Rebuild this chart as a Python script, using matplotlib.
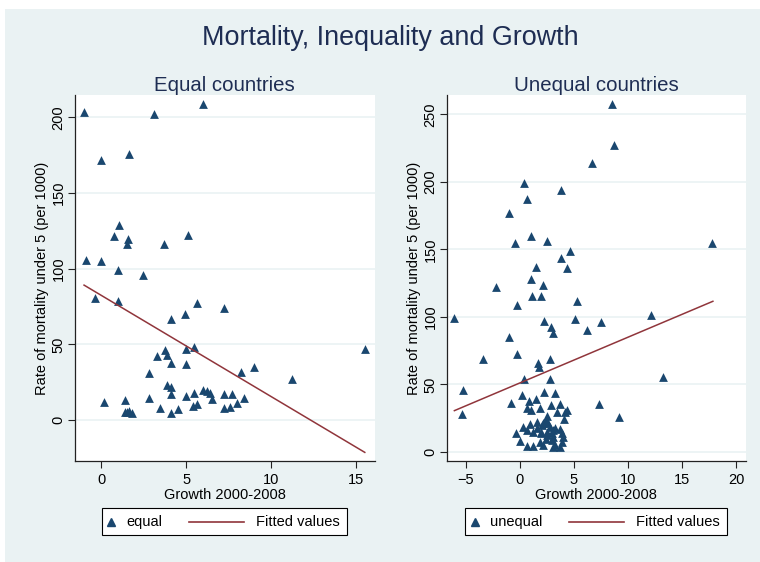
import matplotlib
matplotlib.use("Agg")
import matplotlib.pyplot as plt
from matplotlib.patches import Rectangle
from matplotlib.lines import Line2D

plt.rcParams['font.family'] = ['Liberation Sans', 'DejaVu Sans']

# ---------------- data ----------------
equal_x = [-1.0, 3.1, 6.0, 0.0, 1.67, 1.08, 0.76, 1.6, 1.55, 3.67, 5.1, -0.9, 0.0, 0.98, 2.45,
           -0.33, 1.0, 5.65, 7.2, 4.96, 4.1, 5.45, 4.98, 3.76, 3.3, 3.86, 4.12, 4.98, 15.5, 9.0,
           8.2, 2.84, 11.2, 3.86, 4.12, 6.0, 6.2, 6.4, 6.53, 4.12, 5.45, 4.98, 7.2, 7.67, 8.4,
           7.98, 7.55, 7.2, 5.65, 5.4, 2.84, 3.45, 4.55, 4.1, 0.18, 1.43, 1.43, 1.67, 1.8, 1.55]
equal_y = [203.4, 202, 208.7, 171.7, 175.9, 129, 121.5, 119.5, 116.2, 116.5, 122.2, 106, 105.2, 99, 95.8,
           81, 79, 77.5, 74.4, 70, 66.5, 48.4, 46.7, 46.2, 42.3, 42.7, 37.9, 36.8, 46.9, 35,
           31.9, 31, 27.5, 23.3, 22.2, 20.2, 19.4, 17.6, 14.1, 17.4, 17.6, 16.1, 17.2, 17.2, 14.7,
           11.2, 9, 7.7, 10.6, 9.2, 14.3, 8.1, 7.3, 4.4, 11.7, 13, 5.3, 6.1, 4.8, 5.5]
equal_fit_x = [-1.0, 15.5]
equal_fit_y = [89.2, -21.3]

unequal_x = [8.5, 8.67, 6.67, 0.34, 3.8, 0.62, -0.99, 0.99, -0.43, 2.53, 17.8, 4.66, 3.8, 1.45, 4.32,
             0.99, 2.1, -2.25, 1.11, 1.98, 5.3, -0.25, 12.1, -6.05, 5.12, 2.22, 7.47, 2.87, 3.02, 6.2,
             -1.02, -0.25, -3.4, 2.75, 1.64, 1.73, 13.24, 0.34, 2.78, -5.25, 2.22, 3.21, 0.19, 1.45, 0.86,
             -0.8, 7.34, -5.37, 9.2,
             2.9, 3.7, 1.88, 0.62, 0.99, 3.4, 4.17, 4.32, 4.1, 2.47, 2.41, 2.16, 2.62, 2.78, 1.54,
             0.93, 0.31, 1.23, 0.62, 2.0, 3.08, 3.7, 3.86, 2.47, 3.08, -0.37, 0.06, 0.62, 1.23, 1.85,
             2.16, 2.93, 3.24, 3.86, 3.7, 3.08, 4.0, 2.41, 1.94, 3.24, 2.04, 1.54, 2.93, 2.47]
unequal_y = [257.8, 227.2, 214, 199.5, 194.3, 187.7, 177, 160, 155, 156.5, 155, 148.7, 143.5, 137.3, 136.5,
             128, 123.5, 122.5, 115.6, 115.6, 111.6, 108.6, 101.7, 99, 98.8, 96.8, 96, 92.6, 88.1, 90.4,
             85, 72.6, 68.9, 69.1, 65.7, 62.7, 55.8, 53.8, 54, 45.9, 44.4, 43.5, 42.2, 39.5, 38,
             36.3, 35.3, 28.4, 26.2,
             34.8, 35.3, 32.6, 32.4, 31.1, 29.9, 29.9, 31.1, 24.4, 26.5, 23.7, 21.2, 21.2, 18.7, 22.5,
             20.5, 18.7, 15, 16.3, 15, 16.3, 16.8, 13.8, 12.6, 11.3, 13.8, 8.1, 4.4, 4.4, 7.6,
             5.2, 8.9, 5.2, 7.6, 3.5, 3.5, 11.3, 9.4, 13.8, 17.5, 20.2, 17.5, 14.3, 15]
unequal_fit_x = [-6.05, 17.84]
unequal_fit_y = [30.6, 111.6]

main_title = "Mortality, Inequality and Growth"
panel_titles = ["Equal countries", "Unequal countries"]
series_names = ["equal", "unequal"]
fit_name = "Fitted values"
xlabel = "Growth 2000-2008"
ylabel = "Rate of mortality under 5 (per 1000)"
left_xticks = [0, 5, 10, 15]
left_yticks = [0, 50, 100, 150, 200]
right_xticks = [-5, 0, 5, 10, 15, 20]
right_yticks = [0, 50, 100, 150, 200, 250]

# ---------------- style ----------------
BG = "#EAF2F3"
NAVY = "#1A476F"
MAROON = "#90353B"
TITLE_C = "#1E2D53"

W, H = 760, 562
fig = plt.figure(figsize=(W / 100, H / 100), dpi=100, facecolor="white")
fig.patches.append(Rectangle((5 / W, 0), 1 - 5 / W, 1 - 9 / H, transform=fig.transFigure,
                             facecolor=BG, edgecolor="none", zorder=-10))

def fx(px):
    return px / W

def fy(py):
    return 1 - py / H

fig.text(fx(390), fy(38), main_title, ha="center", va="center", fontsize=19.4, color=TITLE_C)

def px_axes(x0, x1, y0, y1):
    return fig.add_axes([x0 / W, 1 - y1 / H, (x1 - x0) / W, (y1 - y0) / H])

axL = px_axes(74.7, 375, 95, 461)
axR = px_axes(446.7, 746, 95, 461)

panels = [
    (axL, equal_x, equal_y, equal_fit_x, equal_fit_y, (-1.55, 16.1), (-27, 214.8),
     left_xticks, left_yticks, panel_titles[0], series_names[0],
     dict(box=(102, 347), marker=111, text1=126, line=(189, 244), text2=256)),
    (axR, unequal_x, unequal_y, unequal_fit_x, unequal_fit_y, (-6.76, 20.9), (-6.7, 264.4),
     right_xticks, right_yticks, panel_titles[1], series_names[1],
     dict(box=(465, 727), marker=475, text1=490, line=(569, 624), text2=636)),
]

for ax, xs, ys, fxd, fyd, xl, yl, xt, yt, title, name, lg in panels:
    ax.set_facecolor("white")
    ax.set_xlim(*xl)
    ax.set_ylim(*yl)
    ax.set_xticks(xt)
    ax.set_yticks(yt)
    ax.grid(axis="y", color=BG, linewidth=1.2)
    ax.set_axisbelow(True)
    for s in ["top", "right"]:
        ax.spines[s].set_visible(False)
    for s in ["left", "bottom"]:
        ax.spines[s].set_color("#222222")
        ax.spines[s].set_linewidth(0.9)
    ax.tick_params(axis="both", direction="out", length=5, width=0.8, color="#222222",
                   labelsize=10.5, labelcolor="black")
    ax.tick_params(axis="y", pad=1.5)
    for lab in ax.get_yticklabels():
        lab.set_rotation(90)
        lab.set_va("center")
    ax.scatter(xs, ys, marker="^", s=40, color=NAVY, linewidths=0, zorder=3)
    ax.plot(fxd, fyd, color=MAROON, linewidth=1.1, zorder=4)
    ax.set_title(title, fontsize=14.7, color=TITLE_C, pad=3)
    ax.set_xlabel(xlabel, fontsize=10.5, labelpad=1)
    ax.set_ylabel(ylabel, fontsize=10.5, labelpad=2)

    # legend box drawn in figure pixel coordinates
    b0, b1 = lg["box"]
    y0, y1 = 508.3, 535
    yc = (y0 + y1) / 2
    fig.patches.append(Rectangle((fx(b0), fy(y1)), fx(b1) - fx(b0), fy(y0) - fy(y1),
                                 transform=fig.transFigure, facecolor="white",
                                 edgecolor="black", linewidth=0.8, zorder=5))
    fig.lines.append(Line2D([fx(lg["marker"])], [fy(yc)], marker="^", linestyle="none",
                            color=NAVY, markersize=5.5, transform=fig.transFigure, zorder=6))
    fig.text(fx(lg["text1"]), fy(yc), name, ha="left", va="center", fontsize=10.5, zorder=6)
    fig.lines.append(Line2D([fx(lg["line"][0]), fx(lg["line"][1])], [fy(yc), fy(yc)],
                            color=MAROON, linewidth=1.2, transform=fig.transFigure, zorder=6))
    fig.text(fx(lg["text2"]), fy(yc), fit_name, ha="left", va="center", fontsize=10.5, zorder=6)

fig.savefig("out.png", dpi=100, facecolor=fig.get_facecolor())
